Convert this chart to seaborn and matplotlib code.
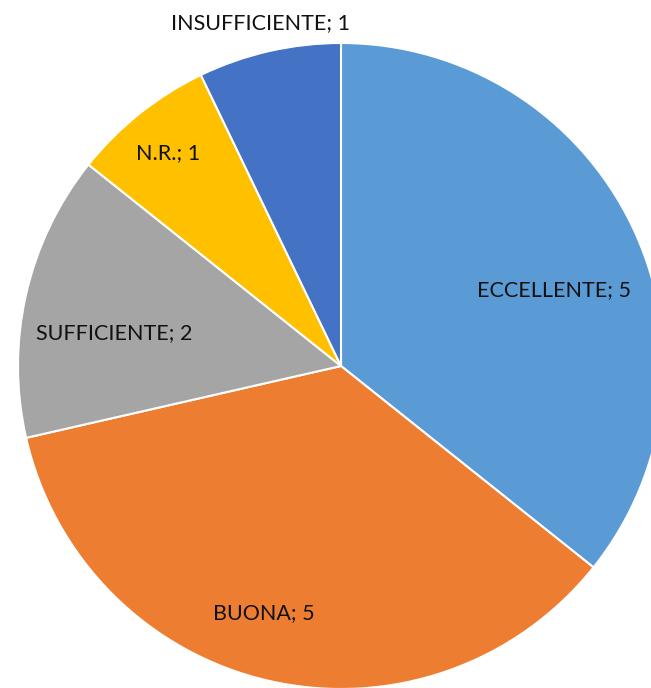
import numpy as np
import matplotlib
matplotlib.use('Agg')
import matplotlib.pyplot as plt
import seaborn as sns

sns.set_theme(style='white')
plt.rcParams['font.family'] = ['Lato', 'DejaVu Sans']

# Data
categories = ['ECCELLENTE', 'BUONA', 'SUFFICIENTE', 'N.R.', 'INSUFFICIENTE']
counts = [5, 5, 2, 1, 1]
colors = ['#5B9BD5', '#ED7D31', '#A5A5A5', '#FFC000', '#4472C4']

# label placement (radial factor, angle tweak in degrees) per slice
label_r = [0.70, 0.80, 0.71, 0.85, 1.09]
label_dang = [-6, -4.5, 4.5, 0.5, 0.3]

W, H = 651, 688
fig = plt.figure(figsize=(W / 100, H / 100), dpi=100)
ax = fig.add_axes([0, 0, 1, 1])

cx, cy, R = 341, H - 366, 323
wedges, _ = ax.pie(counts, colors=colors, startangle=90, counterclock=False,
                   center=(cx, cy), radius=R,
                   wedgeprops=dict(edgecolor='white', linewidth=1.5))

for w, name, n, rf, da in zip(wedges, categories, counts, label_r, label_dang):
    ang = np.deg2rad((w.theta1 + w.theta2) / 2 + da)
    x = cx + rf * R * np.cos(ang)
    y = cy + rf * R * np.sin(ang)
    ax.text(x, y, f'{name}; {n}', ha='center', va='center',
            fontsize=15.5, color='#111111')

ax.set_xlim(0, W)
ax.set_ylim(0, H)
ax.set_aspect('equal')
ax.axis('off')

fig.savefig('out.png', dpi=100, facecolor='white')
